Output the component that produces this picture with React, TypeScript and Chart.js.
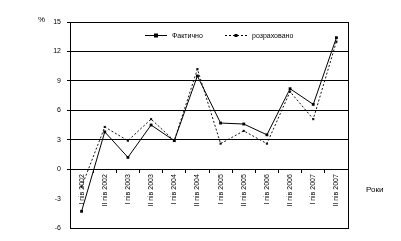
import React, { useEffect, useRef } from "react";
import { Chart, registerables } from "chart.js";

Chart.register(...registerables);

const categories = [
  "І пів 2002", "ІІ пів 2002", "І пів 2003", "ІІ пів 2003",
  "І пів 2004", "ІІ пів 2004", "І пів 2005", "ІІ пів 2005",
  "І пів 2006", "ІІ пів 2006", "І пів 2007", "ІІ пів 2007",
];
const seriesA = [-4.3, 3.8, 1.2, 4.5, 2.9, 9.5, 4.7, 4.6, 3.5, 8.2, 6.6, 13.4];
const seriesB = [-1.8, 4.3, 2.9, 5.1, 2.9, 10.2, 2.6, 3.9, 2.6, 7.9, 5.1, 13.0];
const labelA = "Фактично";
const labelB = "розраховано";
const yTicks = [-6, -3, 0, 3, 6, 9, 12, 15];

const FONT = "Liberation Sans, Arial, sans-serif";

const framePlugin = {
  id: "frame",
  beforeDatasetsDraw(chart: any) {
    const { ctx, chartArea: a } = chart;
    ctx.save();
    ctx.strokeStyle = "#000";
    ctx.lineWidth = 1;
    ctx.strokeRect(Math.round(a.left) + 0.5, Math.round(a.top) + 0.5, Math.round(a.right - a.left), Math.round(a.bottom - a.top));
    ctx.restore();
  },
  afterDraw(chart: any) {
    const { ctx, chartArea: a } = chart;
    ctx.save();
    ctx.fillStyle = "#000";
    ctx.font = `8px ${FONT}`;
    ctx.textBaseline = "middle";
    ctx.textAlign = "left";
    ctx.fillText("%", a.left - 32, a.top - 2);
    ctx.fillText("Роки", a.right + 18, a.bottom - 38);
    // legend
    const ly = a.top + 13;
    const items = [
      { x: a.left + 75, ds: chart.data.datasets[0] },
      { x: a.left + 155, ds: chart.data.datasets[1] },
    ];
    ctx.font = `7px ${FONT}`;
    for (const it of items) {
      ctx.strokeStyle = "#000";
      ctx.lineWidth = 1;
      ctx.setLineDash(it.ds.borderDash || []);
      ctx.beginPath();
      ctx.moveTo(it.x, ly + 0.5);
      ctx.lineTo(it.x + 22, ly + 0.5);
      ctx.stroke();
      ctx.setLineDash([]);
      const r = it.ds.pointRadius;
      ctx.fillRect(it.x + 11 - r, ly + 0.5 - r, r * 2, r * 2);
      ctx.fillText(it.ds.label, it.x + 27, ly + 1);
    }
    ctx.restore();
  },
};

export default function App() {
  const ref = useRef<HTMLCanvasElement>(null);
  useEffect(() => {
    document.body.style.margin = "0";
    const chart = new Chart(ref.current!, {
      type: "line",
      data: {
        labels: categories,
        datasets: [
          {
            label: labelA,
            data: seriesA,
            borderColor: "#000",
            backgroundColor: "#000",
            borderWidth: 1,
            pointStyle: "rect",
            pointRadius: 2,
            pointBorderWidth: 0,
          },
          {
            label: labelB,
            data: seriesB,
            borderColor: "#111",
            backgroundColor: "#111",
            borderWidth: 1,
            borderDash: [2, 2],
            pointStyle: "rect",
            pointRadius: 1.5,
            pointBorderWidth: 0,
          },
        ],
      },
      options: {
        animation: false,
        responsive: false,
        maintainAspectRatio: false,
        layout: { padding: { left: 40, right: 53, top: 22, bottom: 13 } },
        plugins: { legend: { display: false }, tooltip: { enabled: false } },
        scales: {
          x: {
            position: { y: 0 } as any,
            offset: true,
            grid: { display: true, drawOnChartArea: false, offset: true, tickLength: 3, color: "#000" },
            border: { display: true, color: "#000" },
            ticks: {
              autoSkip: false,
              minRotation: 90,
              maxRotation: 90,
              color: "#000",
              font: { family: FONT, size: 7 },
              padding: 2,
            },
          },
          y: {
            min: -6,
            max: 15,
            afterBuildTicks: (s: any) => {
              s.ticks = yTicks.map((v) => ({ value: v }));
            },
            afterFit: (s: any) => {
              s.width = 30;
            },
            grid: {
              color: (c: any) => (c.tick && c.tick.value >= 0 ? "#000" : "rgba(0,0,0,0)"),
              lineWidth: 1,
              tickLength: 3,
              drawTicks: true,
            },
            border: { display: true, color: "#000" },
            ticks: {
              color: "#000",
              font: { family: FONT, size: 7 },
              padding: 6,
            },
          },
        },
      },
      plugins: [framePlugin],
    });
    return () => chart.destroy();
  }, []);
  return (
    <div style={{ position: "absolute", left: 0, top: 0, width: 401, height: 241, background: "#fff" }}>
      <canvas ref={ref} width={401} height={241} style={{ width: 401, height: 241, display: "block" }} />
    </div>
  );
}
